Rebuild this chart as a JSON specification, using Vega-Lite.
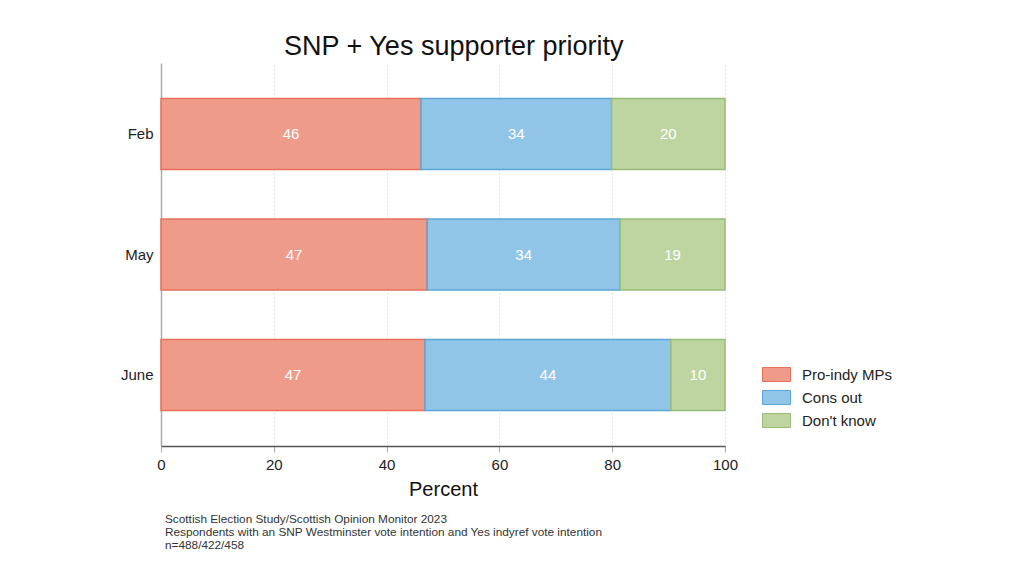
{
  "$schema": "https://vega.github.io/schema/vega-lite/v6.json",
  "background": "white",
  "padding": {"left": 120, "top": 33, "right": 0, "bottom": 0},
  "config": {
    "font": "Liberation Sans",
    "view": {"stroke": null},
    "concat": {"spacing": 0}
  },
  "title": {
    "text": "SNP + Yes supporter priority",
    "fontSize": 27,
    "fontWeight": "normal",
    "color": "#111111",
    "anchor": "middle",
    "offset": 2,
    "dx": -53
  },
  "data": {
    "values": [
      {"month": "Feb", "category": "Pro-indy MPs", "k": 1, "value": 46.1},
      {"month": "Feb", "category": "Cons out", "k": 2, "value": 33.8},
      {"month": "Feb", "category": "Don't know", "k": 3, "value": 20.1},
      {"month": "May", "category": "Pro-indy MPs", "k": 1, "value": 47.2},
      {"month": "May", "category": "Cons out", "k": 2, "value": 34.2},
      {"month": "May", "category": "Don't know", "k": 3, "value": 18.6},
      {"month": "June", "category": "Pro-indy MPs", "k": 1, "value": 46.8},
      {"month": "June", "category": "Cons out", "k": 2, "value": 43.6},
      {"month": "June", "category": "Don't know", "k": 3, "value": 9.6}
    ]
  },
  "vconcat": [
    {
      "width": 564,
      "height": 383,
      "title": {
        "text": [
          "Scottish Election Study/Scottish Opinion Monitor 2023",
          "Respondents with an SNP Westminster vote intention and Yes indyref vote intention",
          "n=488/422/458"
        ],
        "orient": "bottom",
        "anchor": "start",
        "frame": "group",
        "fontSize": 11.8,
        "fontWeight": "normal",
        "color": "#333333",
        "lineHeight": 12.8,
        "offset": 15,
        "dx": 4
      },
      "transform": [
        {"stack": "value", "groupby": ["month"], "sort": [{"field": "k", "order": "ascending"}], "as": ["lo", "hi"]}
      ],
      "encoding": {
        "y": {
          "field": "month",
          "type": "nominal",
          "sort": ["Feb", "May", "June"],
          "scale": {"paddingInner": 0.41, "paddingOuter": 0.295},
          "axis": {
            "title": null,
            "ticks": false,
            "domainColor": "#aaaaaa",
            "domainWidth": 1.5,
            "labelFontSize": 15,
            "labelColor": "#222222",
            "labelPadding": 8,
            "grid": false
          }
        }
      },
      "layer": [
        {
          "mark": {"type": "bar", "strokeWidth": 1.5},
          "encoding": {
            "x": {
              "field": "lo",
              "type": "quantitative",
              "scale": {"domain": [0, 100], "nice": false},
              "axis": {
                "title": "Percent",
                "titleFontSize": 20,
                "titleFontWeight": "normal",
                "titleColor": "#111111",
                "titlePadding": 7,
                "values": [0, 20, 40, 60, 80, 100],
                "labelFontSize": 15,
                "labelColor": "#222222",
                "labelPadding": 5,
                "labelFlush": false,
                "domainColor": "#555555",
                "domainWidth": 1.5,
                "tickColor": "#aaaaaa",
                "tickSize": 6,
                "grid": true,
                "gridColor": "#cccccc",
                "gridDash": [1, 3],
                "gridWidth": 1
              }
            },
            "x2": {"field": "hi"},
            "color": {
              "field": "category",
              "type": "nominal",
              "scale": {
                "domain": ["Pro-indy MPs", "Cons out", "Don't know"],
                "range": ["#ef9b89", "#90c5e7", "#bed5a1"]
              },
              "legend": {
                "title": null,
                "orient": "none",
                "legendX": 608,
                "legendY": 304,
                "labelFontSize": 15,
                "labelColor": "#222222",
                "labelOffset": 18,
                "rowPadding": 4,
                "symbolType": "M-2,-1H2V1H-2Z",
                "symbolSize": 196,
                "symbolStrokeWidth": 1,
                "symbolOpacity": 1
              }
            },
            "stroke": {
              "field": "category",
              "type": "nominal",
              "scale": {
                "domain": ["Pro-indy MPs", "Cons out", "Don't know"],
                "range": ["#e86f5c", "#5aa6d8", "#98bd78"]
              },
              "legend": {
                "title": null,
                "orient": "none",
                "legendX": 608,
                "legendY": 304,
                "labelFontSize": 15,
                "labelColor": "#222222",
                "labelOffset": 18,
                "rowPadding": 4,
                "symbolType": "M-2,-1H2V1H-2Z",
                "symbolSize": 196,
                "symbolStrokeWidth": 1
              }
            }
          }
        },
        {
          "mark": {
            "type": "text",
            "color": "white",
            "fontSize": 15,
            "align": "center",
            "baseline": "middle",
            "dx": {"expr": "datum.value * 2.82"}
          },
          "encoding": {
            "x": {"field": "lo", "type": "quantitative"},
            "text": {"field": "value", "type": "quantitative", "format": ".0f"}
          }
        }
      ]
    }
  ]
}
